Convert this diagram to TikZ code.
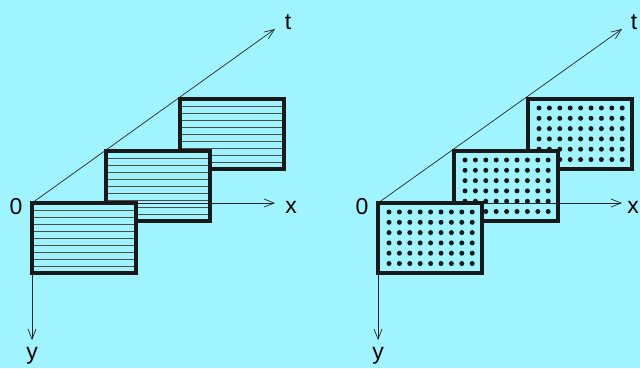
\documentclass[tikz,border=0pt]{standalone}
\usepackage{fontspec}
\setmainfont{Liberation Sans}
\usepackage{xcolor}
\usepackage{tikz}
\usetikzlibrary{arrows.meta}
\usetikzlibrary{calc}
\definecolor{bgcyan}{RGB}{160,244,255}

\begin{document}
\begin{tikzpicture}[x=1pt, y=-1pt, >={Straight Barb[length=10pt,width=8pt]},
    axis/.style={->, line width=0.7pt, black!85},
    frame/.style={draw=black!90, line width=3.2pt},
    stripe/.style={line width=0.9pt, black!70},
    lbl/.style={font=\fontsize{23}{23}\selectfont}]
        \fill[bgcyan] (0,0) rectangle (640,368);
        \useasboundingbox (0,0) rectangle (640,368);

        % left: frames with lines
        \coordinate (o1) at (32,203);
        \coordinate (t1) at (275,29);
        \coordinate (x1) at (275,203);
        \coordinate (y1) at (32,340);

        \foreach \fx/\fy in {180/99, 106/151} {
            \fill[bgcyan] (\fx,\fy) rectangle ++(104,70);
            \foreach \k in {1,...,9}
                \draw[stripe] (\fx+1.5,\fy+7*\k) -- ++(101,0);
            \draw[frame] (\fx,\fy) rectangle ++(104,70);
        }

        \draw[axis] (o1) -- (t1);
        \draw[axis] (o1) -- (x1);
        \draw[axis] (o1) -- (y1);

        \fill[bgcyan] (o1) rectangle ++(104,70);
        \foreach \k in {1,...,9}
            \draw[stripe] ($(o1)+(1.5,7*\k)$) -- ++(101,0);
        \draw[frame] (o1) rectangle ++(104,70);

        \node [lbl] (zero1) at (16,207) {0};
        \node [lbl] (tlab1) at (288,22) {t};
        \node [lbl] (xlab1) at (291,207) {x};
        \node [lbl] (ylab1) at (32,356) {y};

        % right: frames with dots
        \coordinate (o2) at (378,203);
        \coordinate (t2) at (622,29);
        \coordinate (x2) at (622,203);
        \coordinate (y2) at (378,340);

        \foreach \fx/\fy in {528/99, 454/151} {
            \fill[bgcyan] (\fx,\fy) rectangle ++(104,70);
            \foreach \i in {0,...,8}
                \foreach \j in {0,...,5}
                    \fill[black!90] (\fx+11+10.4*\i,\fy+9+10.3*\j) circle[radius=2.5pt];
            \draw[frame] (\fx,\fy) rectangle ++(104,70);
        }

        \draw[axis] (o2) -- (t2);
        \draw[axis] (o2) -- (x2);
        \draw[axis] (o2) -- (y2);

        \fill[bgcyan] (o2) rectangle ++(104,70);
        \foreach \i in {0,...,8}
            \foreach \j in {0,...,5}
                \fill[black!90] (378+11+10.4*\i,203+9+10.3*\j) circle[radius=2.5pt];
        \draw[frame] (o2) rectangle ++(104,70);

        \node [lbl] (zero2) at (362,207) {0};
        \node [lbl] (tlab2) at (634,22) {t};
        \node [lbl] (xlab2) at (633,207) {x};
        \node [lbl] (ylab2) at (378,356) {y};
\end{tikzpicture}
\end{document}
